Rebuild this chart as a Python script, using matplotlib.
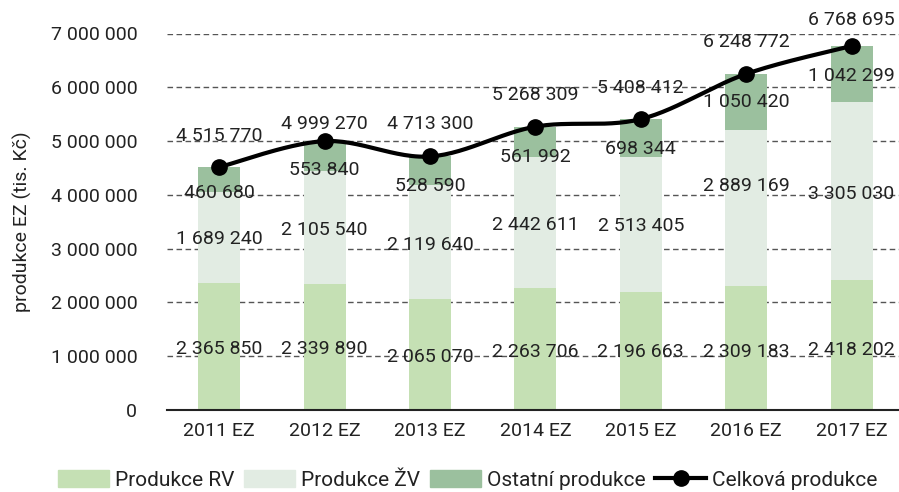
import numpy as np
import matplotlib
matplotlib.use("Agg")
import matplotlib.pyplot as plt
from matplotlib.lines import Line2D
from matplotlib.patches import Patch

categories = ["2011 EZ", "2012 EZ", "2013 EZ", "2014 EZ", "2015 EZ", "2016 EZ", "2017 EZ"]
produkce_rv = [2365850, 2339890, 2065070, 2263706, 2196663, 2309183, 2418202]
produkce_zv = [1689240, 2105540, 2119640, 2442611, 2513405, 2889169, 3305030]
ostatni = [460680, 553840, 528590, 561992, 698344, 1050420, 1042299]
celkova = [4515770, 4999270, 4713300, 5268309, 5408412, 6248772, 6768695]
yticks = [0, 1000000, 2000000, 3000000, 4000000, 5000000, 6000000, 7000000]

# label offsets in pixels (positive = down) relative to segment centre
rv_off = [3, 2, 3, 3, 1, 4, 5]
zv_off = [2, 2, 3, 2, 2, -22, 3]
ost_off = [13, 14, 15, 15, 11, 0, 2]
tot_off = [31, 17, 32, 32, 31, 32, 26]   # up from point

plt.rcParams['font.family'] = ['Roboto', 'DejaVu Sans']
FS = 14

c_rv = "#c5e0b4"
c_zv = "#e2ece3"
c_ost = "#9bc09e"

fig = plt.figure(figsize=(8.99, 4.92), dpi=100)
W, H = 899, 492
ax = fig.add_axes([166.5 / W, 1 - 410 / H, (7 * 105.4) / W, (410 - 33.5) / H])

x = np.arange(len(categories))
bw = 0.40
rv = np.array(produkce_rv, float)
zv = np.array(produkce_zv, float)
ot = np.array(ostatni, float)
tot = np.array(celkova, float)

ax.bar(x, rv, bw, color=c_rv, zorder=2)
ax.bar(x, zv, bw, bottom=rv, color=c_zv, zorder=2)
ax.bar(x, ot, bw, bottom=rv + zv, color=c_ost, zorder=2)

ax.set_xlim(-0.5, len(categories) - 0.5)
ax.set_ylim(0, 7000000)
ax.set_yticks(yticks)
ax.set_yticklabels([f"{v:,}".replace(",", " ") for v in yticks], fontsize=FS, color="#222222")
ax.set_xticks(x)
ax.set_xticklabels(categories, fontsize=FS, color="#222222")
ax.tick_params(axis='both', length=0)
ax.tick_params(axis='y', pad=21)
ax.tick_params(axis='x', pad=9)
for s in ["top", "right", "left"]:
    ax.spines[s].set_visible(False)
ax.spines["bottom"].set_color("#222222")
ax.spines["bottom"].set_linewidth(1.5)
ax.spines["bottom"].set_zorder(3)
for v in yticks[1:]:
    ax.axhline(v, color="#555555", lw=1.0, ls=(0, (4, 2.5)), zorder=1)

# smoothed total line (Bezier through the data points, in pixel-like space)
def smooth(xs, ys, n=30):
    sx, sy = 105.4, 376.5 / 7000000
    P = np.column_stack([np.asarray(xs, float) * sx, np.asarray(ys, float) * sy])
    P = np.vstack([P[0], P, P[-1]])
    out = []
    for i in range(1, len(P) - 2):
        p0, p1, p2, p3 = P[i - 1], P[i], P[i + 1], P[i + 2]
        c1 = p1 + (p2 - p0) / 6
        c2 = p2 - (p3 - p1) / 6
        t = np.linspace(0, 1, n)[:, None]
        seg = (1 - t) ** 3 * p1 + 3 * (1 - t) ** 2 * t * c1 + 3 * (1 - t) * t ** 2 * c2 + t ** 3 * p2
        out.append(seg if i == 1 else seg[1:])
    out = np.vstack(out)
    return out[:, 0] / sx, out[:, 1] / sy

sx_, sy_ = smooth(x, tot)
ax.plot(sx_, sy_, color="black", lw=3, zorder=4, solid_capstyle='round')
ax.plot(x, tot, "o", color="black", ms=11, zorder=5)

fmt = lambda v: f"{int(v):,}".replace(",", " ")
for i in range(len(x)):
    ax.annotate(fmt(rv[i]), (x[i], rv[i] / 2), xytext=(0, -rv_off[i]), textcoords='offset pixels',
                ha='center', va='center', fontsize=FS, color="#222222", zorder=6)
    ax.annotate(fmt(zv[i]), (x[i], rv[i] + zv[i] / 2), xytext=(0, -zv_off[i]), textcoords='offset pixels',
                ha='center', va='center', fontsize=FS, color="#222222", zorder=6)
    ax.annotate(fmt(ot[i]), (x[i], rv[i] + zv[i] + ot[i] / 2), xytext=(0, -ost_off[i]), textcoords='offset pixels',
                ha='center', va='center', fontsize=FS, color="#222222", zorder=6)
    ax.annotate(fmt(tot[i]), (x[i], tot[i]), xytext=(0, tot_off[i]), textcoords='offset pixels',
                ha='center', va='center', fontsize=FS, color="#222222", zorder=6, annotation_clip=False)

fig.text(22 / W, 1 - 222 / H, "produkce EZ (tis. Kč)", rotation=90, ha='center', va='center',
         fontsize=FS, color="#222222")

handles = [Patch(color=c_rv), Patch(color=c_zv), Patch(color=c_ost),
           Line2D([0], [0], color="black", lw=3, marker="o", ms=11)]
labels = ["Produkce RV", "Produkce ŽV", "Ostatní produkce", "Celková produkce"]
fig.legend(handles, labels, loc='center', bbox_to_anchor=(468 / W, 1 - 480 / H), ncol=4, frameon=False,
           fontsize=15, handlelength=2.45, handleheight=0.9, handletextpad=0.3, columnspacing=0.45,
           labelcolor="#222222")

fig.savefig("out.png", dpi=100)
